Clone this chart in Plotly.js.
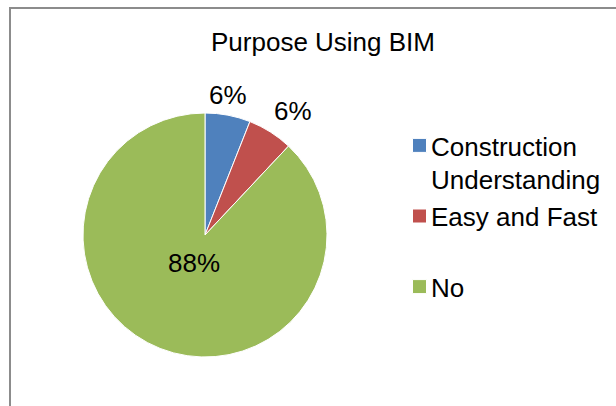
<!DOCTYPE html>
<html>
<head>
<meta charset="utf-8">
<script src="https://cdn.plot.ly/plotly-3.0.1.min.js"></script>
<style>
html,body{margin:0;padding:0;background:#fff;}
#frame{position:absolute;left:9px;top:7px;width:640px;height:440px;border:2px solid #8c8c8c;box-sizing:border-box;}
#chart{position:absolute;left:0;top:0;width:616px;height:406px;}
</style>
</head>
<body>
<div id="frame"></div>
<div id="chart"></div>
<script>
const categories = ["Construction<br>Understanding", "Easy and Fast", "No"];
const values = [6, 6, 88];
const colors = ["#4F81BD", "#C0504D", "#9BBB59"];
const chartTitle = "Purpose Using BIM";

// label placement (style only): radius fraction along the slice's mid angle + anchoring
const labelPlace = [
  {r: 1.0, xanchor: "center", yanchor: "bottom", xshift: 0, yshift: 4},
  {r: 1.0, xanchor: "left",   yanchor: "bottom", xshift: 3, yshift: 5},
  {r: 0.25, xanchor: "center", yanchor: "middle", xshift: 0, yshift: 0}
];
// extra blank lines after each legend entry (spacing only)
const legendPad = [0, 1, 0];

const font = {family: "Liberation Sans, Arial, sans-serif", size: 26, color: "#000"};

const W = 616, H = 406;
const dom = {x: [83/W, 327/W], y: [1-357/H, 1-113/H]};

const trace = {
  type: "pie",
  labels: categories.map((c, i) => c + "<br> ".repeat(legendPad[i])),
  values: values,
  sort: false,
  direction: "clockwise",
  rotation: 0,
  marker: {colors: colors, line: {color: "#fff", width: 1}},
  textinfo: "none",
  hoverinfo: "none",
  domain: dom
};

const total = values.reduce((a, b) => a + b, 0);
const cx = (dom.x[0] + dom.x[1]) / 2, cy = (dom.y[0] + dom.y[1]) / 2;
const rX = (dom.x[1] - dom.x[0]) / 2, rY = (dom.y[1] - dom.y[0]) / 2;
let cum = 0;
const annotations = values.map((v, i) => {
  const mid = (cum + v / 2) / total * 2 * Math.PI;
  cum += v;
  const p = labelPlace[i];
  return {
    xref: "paper", yref: "paper",
    x: cx + Math.sin(mid) * rX * p.r,
    y: cy + Math.cos(mid) * rY * p.r,
    xanchor: p.xanchor, yanchor: p.yanchor, xshift: p.xshift, yshift: p.yshift,
    text: Math.round(v / total * 100) + "%",
    showarrow: false, font: font, borderpad: 0
  };
});

const layout = {
  width: W, height: H,
  margin: {l: 0, r: 0, t: 0, b: 0},
  paper_bgcolor: "rgba(0,0,0,0)",
  plot_bgcolor: "rgba(0,0,0,0)",
  font: font,
  title: {text: chartTitle, font: font, x: 323/W, xanchor: "center", y: 1-42/H, yanchor: "middle", xref: "paper", yref: "paper"},
  showlegend: true,
  legend: {x: 391/W, xanchor: "left", y: 1-122/H, yanchor: "top", font: font, bgcolor: "rgba(0,0,0,0)", itemwidth: 30, valign: "top"},
  annotations: annotations
};

Plotly.newPlot("chart", [trace], layout, {displayModeBar: false, staticPlot: true}).then(() => {
  document.querySelectorAll("#chart .legendpie").forEach(p => p.setAttribute("d", "M15.5,7V-7H1.5V7Z"));
});
</script>
</body>
</html>
